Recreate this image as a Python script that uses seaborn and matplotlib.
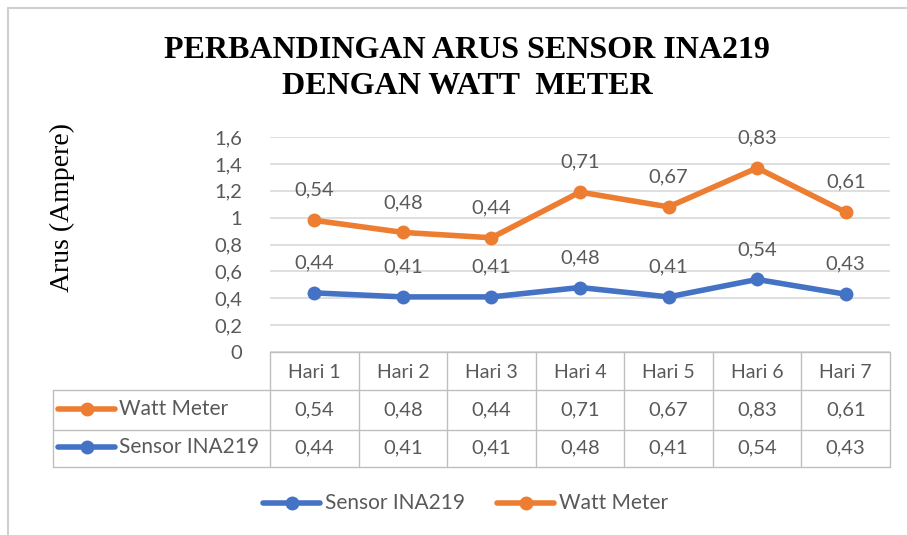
import numpy as np
import pandas as pd
import matplotlib.pyplot as plt
import seaborn as sns
from matplotlib.lines import Line2D

# data (Excel stacked line with data table)
days = ['Hari 1', 'Hari 2', 'Hari 3', 'Hari 4', 'Hari 5', 'Hari 6', 'Hari 7']
sensor = [0.44, 0.41, 0.41, 0.48, 0.41, 0.54, 0.43]
watt = [0.54, 0.48, 0.44, 0.71, 0.67, 0.83, 0.61]
yticks = [0, 0.2, 0.4, 0.6, 0.8, 1.0, 1.2, 1.4, 1.6]

blue = '#4472C4'
orange = '#ED7D31'
txt = '#595959'

sns.set_theme(style='white')
plt.rcParams['font.family'] = ['Lato', 'Open Sans', 'DejaVu Sans']

W, H = 907, 535
fig = plt.figure(figsize=(W / 100, H / 100), dpi=100)

def fx(px):
    return px / W

def fy(py):
    return 1 - py / H

def fmt(v):
    return f'{v:.2f}'.replace('.', ',')

ax = fig.add_axes([fx(270), fy(352), fx(890) - fx(270), fy(137) - fy(352)])

x = np.arange(len(days))
stacked = np.array(sensor) + np.array(watt)
df = pd.DataFrame({
    'x': np.concatenate([x, x]),
    'y': np.concatenate([sensor, stacked]),
    'series': ['Sensor INA219'] * len(x) + ['Watt Meter'] * len(x),
})
sns.lineplot(data=df, x='x', y='y', hue='series', palette=[blue, orange],
             marker='o', markersize=10, markeredgewidth=0, linewidth=4,
             legend=False, ax=ax, zorder=3)

for xi, s, t, sv, wv in zip(x, sensor, stacked, sensor, watt):
    ax.annotate(fmt(sv), (xi, s), xytext=(0, 30), textcoords='offset pixels',
                ha='center', va='center', fontsize=14.5, color=txt)
    ax.annotate(fmt(wv), (xi, t), xytext=(0, 30), textcoords='offset pixels',
                ha='center', va='center', fontsize=14.5, color=txt)

ax.set_xlim(-0.5, 6.5)
ax.set_ylim(0, 1.6)
ax.set_yticks(yticks)
ax.set_yticklabels(['0', '0,2', '0,4', '0,6', '0,8', '1', '1,2', '1,4', '1,6'],
                   fontsize=14.5, color=txt)
ax.set_xticks([])
ax.set_xlabel('')
ax.set_ylabel('')
ax.tick_params(axis='y', length=0, pad=20)
ax.grid(axis='y', color='#D9D9D9', linewidth=1.2)
for sp in ax.spines.values():
    sp.set_visible(False)

# data table below the plot
grid_c = '#BFBFBF'
col_edges = [fx(270 + i * (620 / 7)) for i in range(8)]
fig.add_artist(Line2D([fx(53), fx(53)], [fy(390), fy(467)], color=grid_c, lw=1))
for cx in col_edges:
    fig.add_artist(Line2D([cx, cx], [fy(352), fy(467)], color=grid_c, lw=1))
fig.add_artist(Line2D([col_edges[0], col_edges[-1]], [fy(352), fy(352)], color=grid_c, lw=1))
for ry in [390, 430, 467]:
    fig.add_artist(Line2D([fx(53), col_edges[-1]], [fy(ry), fy(ry)], color=grid_c, lw=1))

centers = [(col_edges[i] + col_edges[i + 1]) / 2 for i in range(7)]
for c, d in zip(centers, days):
    fig.text(c, fy(372), d, ha='center', va='center', fontsize=14, color=txt)
for c, v in zip(centers, watt):
    fig.text(c, fy(410), fmt(v), ha='center', va='center', fontsize=14.5, color=txt)
for c, v in zip(centers, sensor):
    fig.text(c, fy(448), fmt(v), ha='center', va='center', fontsize=14.5, color=txt)

def key(x0, y0, color, length=57):
    fig.add_artist(Line2D([fx(x0), fx(x0 + length)], [fy(y0), fy(y0)], color=color, lw=4))
    fig.add_artist(Line2D([fx(x0 + length / 2)], [fy(y0)], color=color, marker='o',
                          markersize=10, markeredgewidth=0))

key(58, 409, orange)
fig.text(fx(119), fy(409), 'Watt Meter', ha='left', va='center', fontsize=15, color=txt)
key(58, 447, blue)
fig.text(fx(119), fy(447), 'Sensor INA219', ha='left', va='center', fontsize=15, color=txt)

# legend
key(263, 503, blue)
fig.text(fx(325), fy(503), 'Sensor INA219', ha='left', va='center', fontsize=15, color=txt)
key(497, 503, orange)
fig.text(fx(559), fy(503), 'Watt Meter', ha='left', va='center', fontsize=15, color=txt)

# title and y label
fig.text(fx(467), fy(50), 'PERBANDINGAN ARUS SENSOR INA219', ha='center', va='center',
         fontsize=23, fontweight='bold', family='Liberation Serif', color='black')
fig.text(fx(467), fy(86), 'DENGAN WATT  METER', ha='center', va='center',
         fontsize=23, fontweight='bold', family='Liberation Serif', color='black')
fig.text(fx(62), fy(207), 'Arus (Ampere)', rotation=90, ha='center', va='center',
         fontsize=20, family='Liberation Serif', color='black')

# chart frame
fig.add_artist(Line2D([fx(8), fx(8)], [fy(8), 0], color='#D0D0D0', lw=1.5))
fig.add_artist(Line2D([fx(8), 1], [fy(8), fy(8)], color='#D0D0D0', lw=1.5))

fig.savefig('out.png', dpi=100)
